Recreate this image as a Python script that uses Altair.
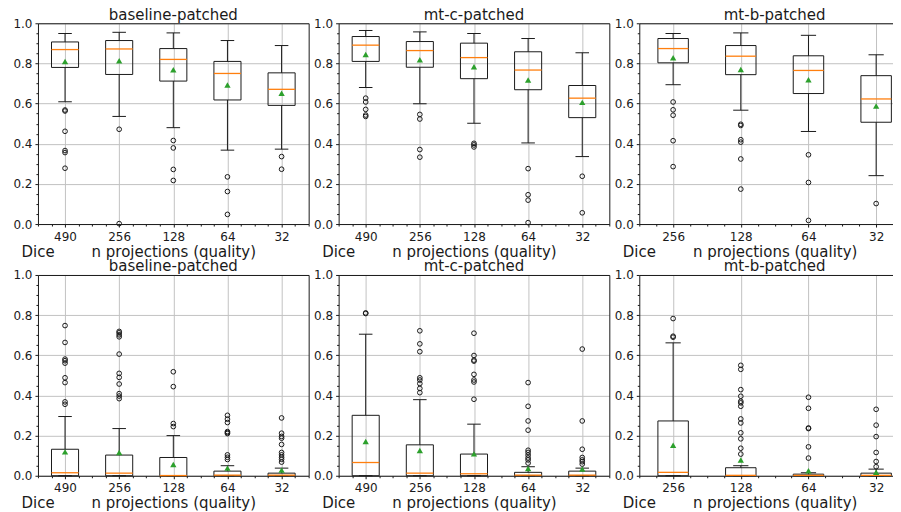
import altair as alt
import pandas as pd

FONT = "DejaVu Sans"
INK = "#1a1a1a"
GRID = "#c2c2c2"
ORANGE = "#ff7f0e"
GREEN = "#2ca02c"

cats_5 = ["490", "256", "128", "64", "32"]
cats_4 = ["256", "128", "64", "32"]
panel_titles = ["baseline-patched", "mt-c-patched", "mt-b-patched"]
y_ticks = [0.0, 0.2, 0.4, 0.6, 0.8, 1.0]

# ---- top row: baseline-patched ----
t1_lo = [0.609, 0.536, 0.480, 0.368, 0.373]
t1_q1 = [0.780, 0.745, 0.712, 0.618, 0.591]
t1_med = [0.869, 0.872, 0.820, 0.750, 0.671]
t1_q3 = [0.907, 0.914, 0.874, 0.810, 0.753]
t1_hi = [0.949, 0.955, 0.952, 0.914, 0.889]
t1_mean = [0.810, 0.813, 0.768, 0.692, 0.651]
t1_out = [[0.568, 0.563, 0.462, 0.366, 0.356, 0.278], [0.472, 0.002],
          [0.416, 0.379, 0.272, 0.217], [0.235, 0.162, 0.048], [0.336, 0.273]]

# ---- top row: mt-c-patched ----
t2_lo = [0.680, 0.599, 0.502, 0.404, 0.336]
t2_q1 = [0.810, 0.781, 0.724, 0.669, 0.530]
t2_med = [0.891, 0.864, 0.829, 0.767, 0.627]
t2_q3 = [0.934, 0.909, 0.901, 0.858, 0.690]
t2_hi = [0.964, 0.957, 0.949, 0.924, 0.853]
t2_mean = [0.844, 0.818, 0.783, 0.717, 0.606]
t2_out = [[0.627, 0.608, 0.571, 0.543, 0.536], [0.546, 0.523, 0.371, 0.333],
          [0.402, 0.394, 0.384], [0.276, 0.146, 0.119, 0.007], [0.238, 0.056]]

# ---- top row: mt-b-patched ----
t3_lo = [0.694, 0.567, 0.461, 0.241]
t3_q1 = [0.803, 0.744, 0.650, 0.507]
t3_med = [0.874, 0.836, 0.765, 0.623]
t3_q3 = [0.924, 0.889, 0.838, 0.739]
t3_hi = [0.949, 0.952, 0.940, 0.843]
t3_mean = [0.828, 0.770, 0.719, 0.588]
t3_out = [[0.608, 0.569, 0.542, 0.415, 0.286],
          [0.497, 0.491, 0.420, 0.408, 0.324, 0.174],
          [0.345, 0.207, 0.018], [0.102]]

# ---- bottom row: baseline-patched ----
b1_lo = [0.0, 0.0, 0.0, 0.0, 0.0]
b1_q1 = [0.0, 0.0, 0.0, 0.0, 0.0]
b1_med = [0.015, 0.013, 0.001, 0.003, 0.003]
b1_q3 = [0.132, 0.103, 0.091, 0.023, 0.013]
b1_hi = [0.295, 0.235, 0.200, 0.050, 0.038]
b1_mean = [0.119, 0.116, 0.056, 0.038, 0.028]
b1_out = [[0.748, 0.664, 0.581, 0.573, 0.561, 0.488, 0.464, 0.368, 0.356],
          [0.719, 0.712, 0.702, 0.692, 0.606, 0.510, 0.490, 0.457, 0.409, 0.397, 0.384],
          [0.518, 0.444, 0.260, 0.245],
          [0.301, 0.282, 0.265, 0.220, 0.215, 0.210, 0.104, 0.092, 0.081],
          [0.288, 0.212, 0.196, 0.187, 0.156, 0.116, 0.104, 0.092, 0.082, 0.068]]

# ---- bottom row: mt-c-patched ----
b2_lo = [0.0, 0.0, 0.0, 0.0, 0.0]
b2_q1 = [0.0, 0.0, 0.0, 0.0, 0.0]
b2_med = [0.066, 0.013, 0.010, 0.003, 0.003]
b2_q3 = [0.301, 0.154, 0.108, 0.017, 0.023]
b2_hi = [0.705, 0.379, 0.257, 0.045, 0.038]
b2_mean = [0.171, 0.126, 0.109, 0.036, 0.033]
b2_out = [[0.811, 0.808],
          [0.722, 0.657, 0.618, 0.488, 0.477, 0.459, 0.435, 0.414],
          [0.710, 0.599, 0.576, 0.571, 0.505, 0.477, 0.467, 0.381],
          [0.464, 0.346, 0.273, 0.227, 0.127, 0.116, 0.103, 0.089, 0.079, 0.063],
          [0.631, 0.273, 0.132, 0.091, 0.079, 0.070, 0.058]]

# ---- bottom row: mt-b-patched ----
b3_lo = [0.0, 0.0, 0.0, 0.0]
b3_q1 = [0.0, 0.0, 0.0, 0.0]
b3_med = [0.017, 0.002, 0.002, 0.002]
b3_q3 = [0.273, 0.040, 0.008, 0.013]
b3_hi = [0.662, 0.050, 0.015, 0.033]
b3_mean = [0.152, 0.078, 0.025, 0.018]
b3_out = [[0.783, 0.695, 0.690],
          [0.550, 0.530, 0.429, 0.396, 0.371, 0.363, 0.346, 0.283, 0.263, 0.214, 0.184, 0.137, 0.108],
          [0.391, 0.336, 0.238, 0.235, 0.144, 0.088],
          [0.331, 0.252, 0.195, 0.116, 0.071, 0.045]]

PANEL_W = 271
PANEL_H = 201


def panel(title, cats, lo, q1, med, q3, hi, mean, fliers, width, x_max,
          title_dx=0.0, right_frame=True):
    n = len(cats)
    pos = list(range(1, n + 1))
    bw = min(0.5, 0.15 * (n - 1))
    df = pd.DataFrame(dict(pos=pos, lo=lo, q1=q1, med=med, q3=q3, hi=hi, mean=mean))
    df["bl"] = df["pos"] - bw / 2
    df["br"] = df["pos"] + bw / 2
    df["cl"] = df["pos"] - bw / 4
    df["cr"] = df["pos"] + bw / 4
    fl = pd.DataFrame([(p, v) for p, vs in zip(pos, fliers) for v in vs], columns=["pos", "v"])

    xs = alt.Scale(domain=[0.5, x_max], nice=False, zero=False)
    ys = alt.Scale(domain=[0, 1], nice=False, zero=False)
    labels = "[" + ",".join(f"'{c}'" for c in cats) + "][datum.value-1]"

    x_major = alt.Axis(values=pos, labelExpr=labels, orient="bottom", grid=True,
                       gridColor=GRID, gridWidth=1, domain=True, domainColor=INK,
                       domainWidth=1, ticks=True, tickSize=3,
                       tickColor=INK, labelPadding=4, labelFont=FONT, labelFontSize=12,
                       labelColor=INK, labelFlush=False, labelOverlap=False,
                       title="n projections (quality)", titleFont=FONT, titleFontSize=15,
                       titleFontWeight="normal", titleColor=INK, titleX=135.5, titleY=32,
                       titleAlign="center", titleBaseline="alphabetic")
    y_major = alt.Axis(values=y_ticks, format=".1f", orient="left", grid=True,
                       gridColor=GRID, gridWidth=1, domain=True, domainColor=INK,
                       domainWidth=1, ticks=True, tickSize=3,
                       tickColor=INK, labelPadding=3, labelFont=FONT, labelFontSize=12,
                       labelColor=INK, labelFlush=False, labelOverlap=False,
                       title="Dice", titleFont=FONT, titleFontSize=15, titleFontWeight="normal",
                       titleColor=INK, titleAngle=0, titleX=-17, titleY=PANEL_H + 32,
                       titleAlign="left", titleBaseline="alphabetic")
    minor_x = [round(p + k * 0.25, 3) for p in range(0, n + 2) for k in (1, 2, 3)]
    minor_x = [v for v in minor_x if 0.5 <= v <= x_max]
    minor_y = [round(i * 0.05, 3) for i in range(21) if i % 4 != 0]
    x_minor = alt.Axis(values=minor_x, orient="bottom", labels=False, grid=False, domain=False,
                       ticks=True, tickSize=2, tickColor=INK, title=None)
    y_minor = alt.Axis(values=minor_y, orient="left", labels=False, grid=False, domain=False,
                       ticks=True, tickSize=2, tickColor=INK, title=None)
    x_top = alt.Axis(orient="top", labels=False, ticks=False, grid=False, domain=True,
                     domainColor=INK, domainWidth=1, title=None)
    y_right = alt.Axis(orient="right", labels=False, ticks=False, grid=False, domain=True,
                       domainColor=INK, domainWidth=1, title=None) if right_frame else None

    base = alt.Chart(df)
    minor = base.mark_point(opacity=0).encode(
        x=alt.X("pos:Q", scale=xs, axis=x_minor),
        y=alt.Y("mean:Q", scale=ys, axis=y_minor))
    frame = base.mark_point(opacity=0).encode(
        x=alt.X("pos:Q", scale=xs, axis=x_top),
        y=alt.Y("mean:Q", scale=ys, axis=y_right))
    whisk_lo = base.mark_rule(color=INK, strokeWidth=1).encode(
        x=alt.X("pos:Q", scale=xs, axis=x_major),
        y=alt.Y("lo:Q", scale=ys, axis=y_major), y2="q1:Q")
    whisk_hi = base.mark_rule(color=INK, strokeWidth=1).encode(
        x=alt.X("pos:Q", scale=xs, axis=None),
        y=alt.Y("q3:Q", scale=ys, axis=None), y2="hi:Q")
    cap_lo = base.mark_rule(color=INK, strokeWidth=1).encode(
        x=alt.X("cl:Q", scale=xs, axis=None), x2="cr:Q",
        y=alt.Y("lo:Q", scale=ys, axis=None))
    cap_hi = base.mark_rule(color=INK, strokeWidth=1).encode(
        x=alt.X("cl:Q", scale=xs, axis=None), x2="cr:Q",
        y=alt.Y("hi:Q", scale=ys, axis=None))
    box = base.mark_rect(fillOpacity=0, stroke=INK, strokeWidth=1).encode(
        x=alt.X("bl:Q", scale=xs, axis=None), x2="br:Q",
        y=alt.Y("q1:Q", scale=ys, axis=None), y2="q3:Q")
    median = base.mark_rule(color=ORANGE, strokeWidth=1.3).encode(
        x=alt.X("bl:Q", scale=xs, axis=None), x2="br:Q",
        y=alt.Y("med:Q", scale=ys, axis=None))
    out = alt.Chart(fl).mark_point(shape="circle", filled=False, color=INK, size=22,
                                   strokeWidth=1, opacity=1).encode(
        x=alt.X("pos:Q", scale=xs, axis=None),
        y=alt.Y("v:Q", scale=ys, axis=None))
    means = base.mark_point(shape="triangle-up", filled=True, color=GREEN, size=40,
                            opacity=1).encode(
        x=alt.X("pos:Q", scale=xs, axis=None),
        y=alt.Y("mean:Q", scale=ys, axis=None))

    return alt.layer(minor, frame, whisk_lo, whisk_hi, cap_lo, cap_hi, box, median, out,
                     means).resolve_axis(x="independent", y="independent").properties(
        width=width, height=PANEL_H,
        title=alt.TitleParams(text=title, font=FONT, fontSize=15, fontWeight="normal",
                              color=INK, anchor="middle", frame="group", offset=-17.5,
                              baseline="alphabetic", dx=title_dx))


# the right-hand panels run off the page edge in the reference; keep the same
# category spacing and show only the part that fits
W3 = 254
X3_MAX = 0.5 + W3 / (PANEL_W / 4.0)

panels = [
    panel(panel_titles[0], cats_5, t1_lo, t1_q1, t1_med, t1_q3, t1_hi, t1_mean, t1_out, PANEL_W, 5.5),
    panel(panel_titles[1], cats_5, t2_lo, t2_q1, t2_med, t2_q3, t2_hi, t2_mean, t2_out, PANEL_W, 5.5),
    panel(panel_titles[2], cats_4, t3_lo, t3_q1, t3_med, t3_q3, t3_hi, t3_mean, t3_out, W3, X3_MAX,
          title_dx=(PANEL_W - W3) / 2, right_frame=False),
    panel(panel_titles[0], cats_5, b1_lo, b1_q1, b1_med, b1_q3, b1_hi, b1_mean, b1_out, PANEL_W, 5.5),
    panel(panel_titles[1], cats_5, b2_lo, b2_q1, b2_med, b2_q3, b2_hi, b2_mean, b2_out, PANEL_W, 5.5),
    panel(panel_titles[2], cats_4, b3_lo, b3_q1, b3_med, b3_q3, b3_hi, b3_mean, b3_out, W3, X3_MAX,
          title_dx=(PANEL_W - W3) / 2, right_frame=False),
]

chart = alt.concat(*panels, columns=3, spacing={"row": 51, "column": 30},
                   bounds="flush", align="each",
                   padding={"left": 4, "top": -1, "right": 0, "bottom": 0},
                   background="white").configure_view(strokeWidth=0)

chart.save("out.html", embed_options={"renderer": "svg", "actions": False})
